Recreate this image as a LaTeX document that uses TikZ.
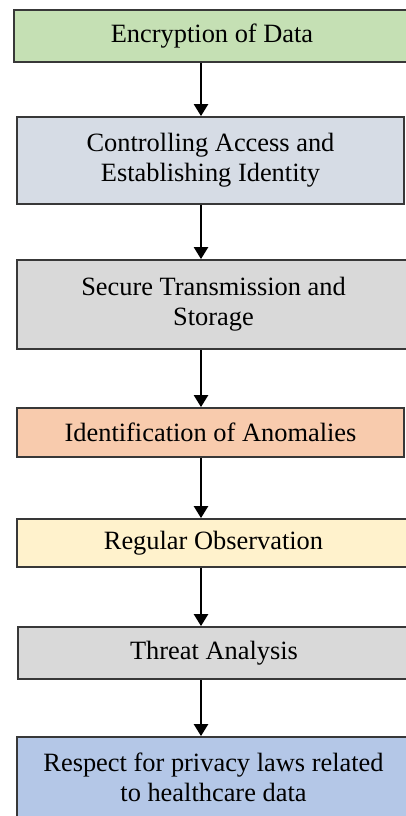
\documentclass[tikz,border=0pt]{standalone}
\usepackage{fontspec}
\setmainfont{Liberation Serif}
\usetikzlibrary{arrows.meta}
\definecolor{boxline}{HTML}{383838}
\definecolor{encgreen}{HTML}{C5E0B4}
\definecolor{ctrlblue}{HTML}{D6DCE5}
\definecolor{stepgray}{HTML}{D9D9D9}
\definecolor{anomorange}{HTML}{F8CBAD}
\definecolor{obsyellow}{HTML}{FFF2CC}
\definecolor{lawblue}{HTML}{B4C7E7}
\begin{document}
\begin{tikzpicture}[x=0.5pt,y=-0.5pt]
    \useasboundingbox (0,0) rectangle (406,816);
    \coordinate (ax) at (201,0);
    \begin{scope}[every node/.style={draw=boxline,line width=0.9pt,align=center,inner sep=0pt,font=\fontsize{13.2}{15}\selectfont}]
        \node[fill=encgreen,minimum width=198pt,minimum height=26pt] (enc) at (212,36) {Encryption of Data};
        \node[fill=ctrlblue,minimum width=193.5pt,minimum height=43.5pt] (ctrl) at (210.5,160.5) {Controlling Access and\\Establishing Identity};
        \node[fill=stepgray,minimum width=196.5pt,minimum height=44.5pt] (trans) at (213.5,304.5) {Secure Transmission and\\Storage};
        \node[fill=anomorange,minimum width=193.5pt,minimum height=24.5pt] (anom) at (210.5,432.5) {Identification of Anomalies};
        \node[fill=obsyellow,minimum width=196.5pt,minimum height=24pt] (obs) at (213.5,543) {Regular Observation};
        \node[fill=stepgray,minimum width=196pt,minimum height=26pt] (threat) at (214,653) {Threat Analysis};
        \node[fill=lawblue,minimum width=196.5pt,minimum height=40.5pt] (law) at (213.5,777.5) {Respect for privacy laws related\\to healthcare data};
    \end{scope}
    \begin{scope}[every edge/.style={draw=black,line width=1.2pt,-{Triangle[width=7pt,length=6pt]}}]
        \path (enc.south -| ax) edge (ctrl.north -| ax)
              (ctrl.south -| ax) edge (trans.north -| ax)
              (trans.south -| ax) edge (anom.north -| ax)
              (anom.south -| ax) edge (obs.north -| ax)
              (obs.south -| ax) edge (threat.north -| ax)
              (threat.south -| ax) edge (law.north -| ax);
    \end{scope}
\end{tikzpicture}
\end{document}
